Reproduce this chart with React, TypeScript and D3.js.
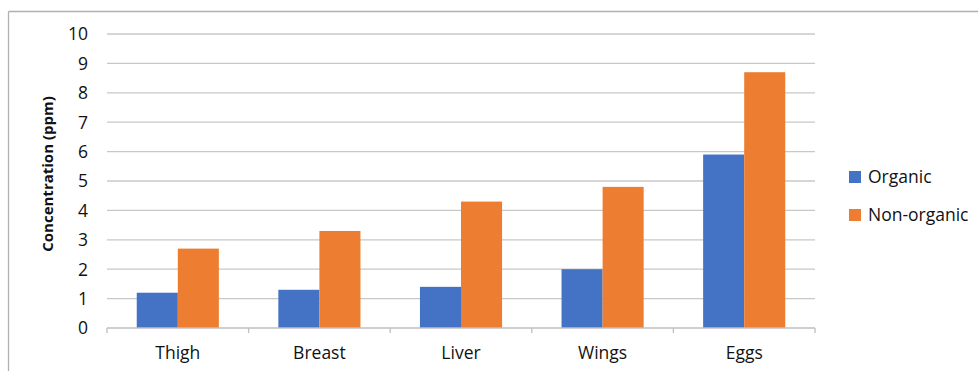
import React from "react";
import * as d3 from "d3";

const categories = ["Thigh", "Breast", "Liver", "Wings", "Eggs"];
const seriesNames = ["Organic", "Non-organic"];
const organic = [1.2, 1.3, 1.4, 2.0, 5.9];
const nonOrganic = [2.7, 3.3, 4.3, 4.8, 8.7];
const yTicks = [0, 1, 2, 3, 4, 5, 6, 7, 8, 9, 10];
const colors = ["#4472C4", "#ED7D31"];

const W = 978;
const H = 371;
const plot = { left: 107, right: 815, top: 34, bottom: 328 };
const font = "'Open Sans', 'Liberation Sans', sans-serif";

export default function App() {
  const x = d3
    .scaleBand<string>()
    .domain(categories)
    .range([plot.left, plot.right])
    .paddingInner(0.42)
    .paddingOuter(0.21);
  const inner = d3
    .scaleBand<string>()
    .domain(seriesNames)
    .range([0, x.bandwidth()]);
  const y = d3.scaleLinear().domain([0, 10]).range([plot.bottom, plot.top]);
  const series = [organic, nonOrganic];
  const step = (plot.right - plot.left) / categories.length;
  const tickXs = d3.range(categories.length + 1).map((i) => plot.left + i * step);

  return (
    <svg
      width={W}
      height={H}
      style={{ position: "absolute", left: 0, top: 0, background: "#fff" }}
      fontFamily={font}
    >
      {/* chart frame */}
      <line x1={8.5} y1={11.5} x2={W} y2={11.5} stroke="#b0b0b0" strokeWidth={1.3} />
      <line x1={8.5} y1={11.5} x2={8.5} y2={H} stroke="#b0b0b0" strokeWidth={1.3} />

      {/* gridlines */}
      {yTicks.slice(1).map((t) => (
        <line
          key={t}
          x1={plot.left}
          x2={plot.right}
          y1={y(t)}
          y2={y(t)}
          stroke="#c8c8c8"
          strokeWidth={1.3}
        />
      ))}

      {/* bars */}
      {categories.map((c, i) =>
        series.map((s, j) => (
          <rect
            key={c + j}
            x={(x(c) ?? 0) + (inner(seriesNames[j]) ?? 0)}
            width={inner.bandwidth()}
            y={y(s[i])}
            height={y(0) - y(s[i])}
            fill={colors[j]}
          />
        ))
      )}

      {/* category axis */}
      <line x1={plot.left} x2={plot.right} y1={plot.bottom} y2={plot.bottom} stroke="#bfbfbf" strokeWidth={1.3} />
      {tickXs.map((tx, i) => (
        <line key={i} x1={tx} x2={tx} y1={plot.bottom} y2={plot.bottom + 5} stroke="#bfbfbf" strokeWidth={1.3} />
      ))}
      {categories.map((c) => (
        <text
          key={c}
          x={(x(c) ?? 0) + x.bandwidth() / 2}
          y={359}
          textAnchor="middle"
          fontSize={17.5}
          fill="#111"
        >
          {c}
        </text>
      ))}

      {/* value axis labels */}
      {yTicks.map((t) => (
        <text key={t} x={88} y={y(t) + 6.3} textAnchor="end" fontSize={17.5} fill="#111">
          {t}
        </text>
      ))}
      <text
        transform={`translate(53,${(plot.top + plot.bottom) / 2 - 7}) rotate(-90)`}
        textAnchor="middle"
        fontSize={15}
        fontWeight="bold"
        fill="#111"
      >
        Concentration (ppm)
      </text>

      {/* legend */}
      {seriesNames.map((n, j) => (
        <g key={n} transform={`translate(849,${183 + j * 38})`}>
          <rect x={0} y={-12} width={12} height={12} fill={colors[j]} />
          <text x={19} y={0} fontSize={17.5} fill="#111">
            {n}
          </text>
        </g>
      ))}
    </svg>
  );
}
